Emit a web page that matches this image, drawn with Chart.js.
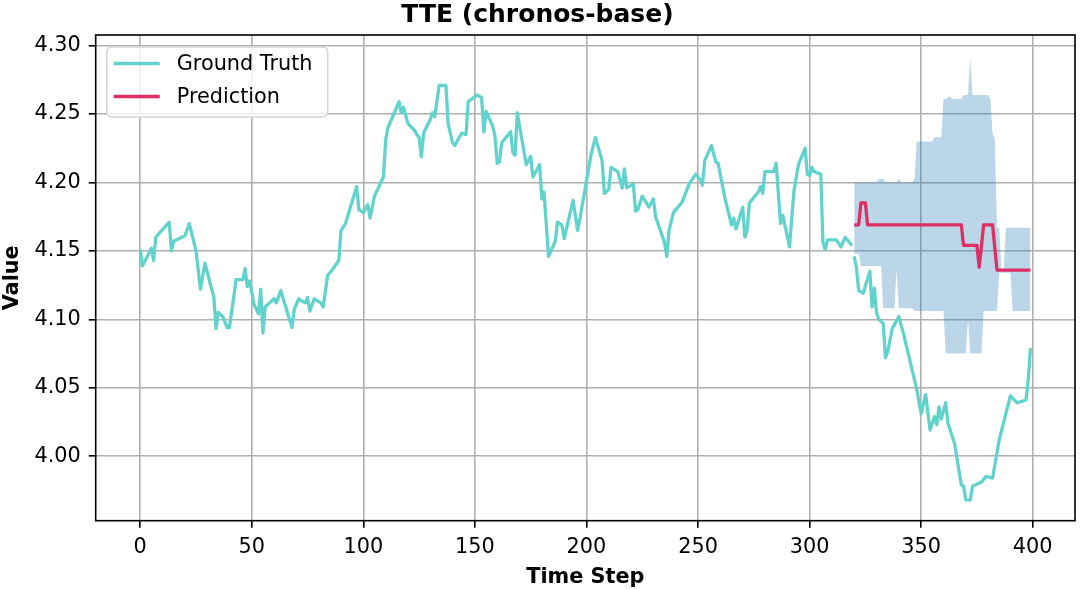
<!DOCTYPE html>
<html>
<head>
<meta charset="utf-8">
<title>TTE (chronos-base)</title>
<script src="https://cdn.jsdelivr.net/npm/chart.js@4.4.1/dist/chart.umd.min.js"></script>
<style>
  html, body { margin: 0; padding: 0; background: #fff; }
  #wrap { width: 1080px; height: 590px; }
</style>
</head>
<body>
<div id="wrap"><canvas id="chart" width="1080" height="590"></canvas></div>
<script>
// ground truth, context part (steps 0-319)
const gtSteps = [0, 1, 5, 6, 7, 13, 14, 15, 20, 22, 25, 27, 29, 33, 34, 35, 37, 39, 40, 43, 46, 47, 48, 49,
  51, 53, 54, 55, 56, 60, 61, 63, 68, 69, 71, 74, 75, 76, 78, 81, 82, 84, 86, 89, 90, 92, 97, 98, 100,
  102, 103, 105, 109, 110, 111, 116, 117, 118, 120, 123, 124, 125, 126, 127, 130, 131, 132, 134, 137,
  138, 140, 141, 144, 146, 147, 151, 153, 154, 155, 158, 159, 160, 161, 162, 166, 167, 168, 169, 173,
  175, 176, 179, 180, 181, 183, 186, 187, 189, 190, 194, 196, 197, 200, 202, 204, 207, 208, 210, 211,
  214, 216, 217, 218, 221, 222, 223, 225, 228, 230, 231, 235, 236, 237, 239, 243, 246, 249, 251, 252,
  253, 256, 258, 259, 262, 265, 266, 267, 270, 271, 272, 273, 277, 278, 279, 280, 284, 285, 287, 288,
  291, 293, 295, 298, 299, 300, 301, 302, 305, 306, 307, 308, 312, 314, 316, 319];
const gtValues = [4.151, 4.139, 4.152, 4.143, 4.160, 4.171, 4.150, 4.157, 4.161, 4.170, 4.150, 4.122,
  4.141, 4.116, 4.093, 4.105, 4.102, 4.094, 4.094, 4.129, 4.129, 4.137, 4.124, 4.128,
  4.111, 4.104, 4.122, 4.090, 4.109, 4.115, 4.112, 4.121, 4.094, 4.107, 4.115, 4.112, 4.116, 4.106,
  4.115, 4.112, 4.109, 4.132, 4.136, 4.143, 4.165, 4.170, 4.197, 4.180, 4.178,
  4.184, 4.174, 4.190, 4.204, 4.231, 4.240, 4.259, 4.251, 4.255, 4.243, 4.238, 4.235, 4.233, 4.219,
  4.236, 4.246, 4.251, 4.248, 4.271, 4.271,
  4.243, 4.229, 4.227, 4.236, 4.235, 4.259, 4.264, 4.262, 4.237, 4.252, 4.241, 4.234, 4.214, 4.215,
  4.229, 4.237, 4.222, 4.220, 4.251, 4.213,
  4.219, 4.204, 4.213, 4.188, 4.193, 4.146, 4.157, 4.171, 4.169, 4.159, 4.187, 4.165, 4.173, 4.201,
  4.220, 4.233, 4.216, 4.192, 4.195, 4.211,
  4.208, 4.196, 4.210, 4.196, 4.199, 4.179, 4.180, 4.190, 4.182, 4.188, 4.175, 4.156, 4.146, 4.165,
  4.178, 4.186, 4.199, 4.206, 4.202, 4.198,
  4.216, 4.227, 4.215, 4.214, 4.189, 4.169, 4.174, 4.166, 4.182, 4.160, 4.165, 4.185, 4.193, 4.197,
  4.192, 4.208, 4.208, 4.214, 4.170, 4.176,
  4.153, 4.194, 4.213, 4.225, 4.206, 4.205, 4.211, 4.208, 4.206, 4.156, 4.151, 4.158, 4.158, 4.153,
  4.160, 4.154];

// ground truth, forecast horizon (steps 320-399)
const futureSteps = [320, 321, 322, 324, 327, 328, 329, 330, 331, 333, 334, 335, 337, 340, 342, 348,
  350, 352, 354, 356, 357, 358, 359, 361, 362, 365, 368, 369, 370, 372, 373, 377, 379, 382, 385, 390,
  393, 397, 398, 399];
const futureValues = [4.146, 4.138, 4.121, 4.119, 4.135, 4.109, 4.123, 4.105, 4.100, 4.097, 4.072,
  4.076, 4.093, 4.102, 4.090, 4.049, 4.031, 4.045, 4.019, 4.029, 4.023, 4.036, 4.027, 4.039, 4.024,
  4.009, 3.979, 3.978, 3.968, 3.968, 3.978, 3.981, 3.985, 3.984, 4.012, 4.044, 4.039, 4.041, 4.056,
  4.079];

// median prediction
const predSteps = [320, 322, 323, 325, 326, 368, 369, 375, 376, 378, 382, 384, 399];
const predValues = [4.169, 4.169, 4.185, 4.185, 4.169, 4.169, 4.154, 4.154, 4.138, 4.169, 4.169,
  4.136, 4.136];

// prediction interval
const bandSteps = [320, 322, 323, 330, 331, 332, 333, 334, 338, 339, 340, 341, 346, 347, 348, 355,
  356, 359, 360, 361, 363, 364, 368, 369, 370, 371, 372, 373, 377, 378, 380, 381, 382, 383, 384, 385,
  386, 387, 388, 390, 391, 399];
const bandUpper = [4.200, 4.200, 4.200, 4.200, 4.2025, 4.2025, 4.2025, 4.200, 4.200, 4.200, 4.203,
  4.200, 4.200, 4.2025, 4.230, 4.230, 4.233, 4.233, 4.261, 4.261, 4.263, 4.261, 4.261, 4.264, 4.264,
  4.264, 4.291, 4.264, 4.264, 4.264, 4.264, 4.261, 4.236, 4.232, 4.167, 4.167, 4.135, 4.135, 4.167,
  4.167, 4.167, 4.167];
const bandLower = [4.148, 4.148, 4.139, 4.139, 4.139, 4.139, 4.108, 4.108, 4.108, 4.136, 4.108,
  4.108, 4.108, 4.106, 4.106, 4.106, 4.106, 4.106, 4.106, 4.075, 4.075, 4.075, 4.075, 4.075, 4.075,
  4.100, 4.075, 4.075, 4.075, 4.106, 4.106, 4.106, 4.106, 4.106, 4.106, 4.134, 4.134, 4.134, 4.134,
  4.134, 4.106, 4.106];

const xTicks = [0, 50, 100, 150, 200, 250, 300, 350, 400];
const yTicks = [4.00, 4.05, 4.10, 4.15, 4.20, 4.25, 4.30];

const GT_COLOR = 'rgb(98, 211, 204)';
const PRED_COLOR = 'rgb(222, 47, 99)';
const BAND_COLOR = 'rgba(31, 119, 180, 0.3)';
const FONT = 'DejaVu Sans';

const toPoints = (xs, ys) => xs.map((x, i) => ({ x: x, y: ys[i] }));

// draws the full axes frame on top of the data
const frame = {
  id: 'frame',
  afterDatasetsDraw(chart) {
    const { ctx, chartArea: a } = chart;
    ctx.save();
    ctx.strokeStyle = '#000';
    ctx.lineWidth = 1.6;
    ctx.strokeRect(a.left, a.top, a.right - a.left, a.bottom - a.top);
    ctx.restore();
  }
};

// matplotlib-like legend in the upper left corner of the plot
const legendItems = [
  { label: 'Ground Truth', color: GT_COLOR },
  { label: 'Prediction', color: PRED_COLOR }
];
const innerLegend = {
  id: 'innerLegend',
  afterDraw(chart) {
    const { ctx, chartArea: a } = chart;
    const x = a.left + 11, y = a.top + 12, w = 221, h = 70, r = 5;
    ctx.save();
    ctx.beginPath();
    ctx.moveTo(x + r, y);
    ctx.arcTo(x + w, y, x + w, y + h, r);
    ctx.arcTo(x + w, y + h, x, y + h, r);
    ctx.arcTo(x, y + h, x, y, r);
    ctx.arcTo(x, y, x + w, y, r);
    ctx.closePath();
    ctx.fillStyle = 'rgba(255,255,255,0.8)';
    ctx.fill();
    ctx.strokeStyle = '#d5d5d5';
    ctx.lineWidth = 1.5;
    ctx.stroke();
    ctx.font = '20.8px "' + FONT + '"';
    ctx.textBaseline = 'middle';
    legendItems.forEach((item, i) => {
      const ly = y + 16.5 + i * 33;
      ctx.strokeStyle = item.color;
      ctx.lineWidth = 3.3;
      ctx.beginPath();
      ctx.moveTo(x + 7, ly);
      ctx.lineTo(x + 53, ly);
      ctx.stroke();
      ctx.fillStyle = '#000';
      ctx.fillText(item.label, x + 70, ly + 1);
    });
    ctx.restore();
  }
};

const lineStyle = { pointRadius: 0, tension: 0, borderJoinStyle: 'round', borderCapStyle: 'butt' };

new Chart(document.getElementById('chart').getContext('2d'), {
  type: 'line',
  data: {
    datasets: [
      Object.assign({ label: 'Prediction', data: toPoints(predSteps, predValues),
        borderColor: PRED_COLOR, borderWidth: 3.3, fill: false, order: 0 }, lineStyle),
      Object.assign({ label: 'Ground Truth', data: toPoints(gtSteps, gtValues),
        borderColor: GT_COLOR, borderWidth: 3.3, fill: false, order: 1 }, lineStyle),
      Object.assign({ label: 'Ground Truth', data: toPoints(futureSteps, futureValues),
        borderColor: GT_COLOR, borderWidth: 3.3, fill: false, order: 1 }, lineStyle),
      Object.assign({ label: 'upper', data: toPoints(bandSteps, bandUpper),
        borderWidth: 0, borderColor: 'rgba(0,0,0,0)', backgroundColor: BAND_COLOR,
        fill: '+1', order: 3 }, lineStyle),
      Object.assign({ label: 'lower', data: toPoints(bandSteps, bandLower),
        borderWidth: 0, borderColor: 'rgba(0,0,0,0)', fill: false, order: 3 }, lineStyle)
    ]
  },
  options: {
    responsive: false,
    animation: false,
    events: [],
    layout: { padding: { left: 0, right: 5, top: 0, bottom: 0 } },
    plugins: {
      legend: { display: false },
      tooltip: { enabled: false },
      title: {
        display: true,
        text: 'TTE (chronos-base)',
        color: '#000',
        font: { family: FONT, size: 25, weight: 'bold', lineHeight: 1.2 },
        padding: { top: 0, bottom: 5 }
      }
    },
    scales: {
      x: {
        type: 'linear',
        min: -19.95,
        max: 418.95,
        afterFit: s => { s.height = 69.3; },
        afterBuildTicks: s => { s.ticks = xTicks.map(v => ({ value: v })); },
        ticks: {
          color: '#000',
          font: { family: FONT, size: 20.8 },
          padding: 7,
          maxRotation: 0,
          callback: v => String(v)
        },
        grid: { color: '#b0b0b0', lineWidth: 1.6, tickColor: '#000', tickWidth: 1.6, tickLength: 7 },
        border: { display: false },
        title: {
          display: true,
          text: 'Time Step',
          color: '#000',
          font: { family: FONT, size: 20.8, weight: 'bold', lineHeight: 1.2 },
          padding: { top: 0, bottom: 0 }
        }
      },
      y: {
        type: 'linear',
        min: 3.9528,
        max: 4.3078,
        afterFit: s => { s.width = 95.7; },
        afterBuildTicks: s => { s.ticks = yTicks.map(v => ({ value: v })); },
        ticks: {
          color: '#000',
          font: { family: FONT, size: 20.8 },
          padding: 8,
          callback: v => v.toFixed(2)
        },
        grid: { color: '#b0b0b0', lineWidth: 1.6, tickColor: '#000', tickWidth: 1.6, tickLength: 7 },
        border: { display: false },
        title: {
          display: true,
          text: 'Value',
          color: '#000',
          font: { family: FONT, size: 20.8, weight: 'bold', lineHeight: 1.2 },
          padding: { top: 0, bottom: 0 }
        }
      }
    }
  },
  plugins: [frame, innerLegend]
});
</script>
</body>
</html>
